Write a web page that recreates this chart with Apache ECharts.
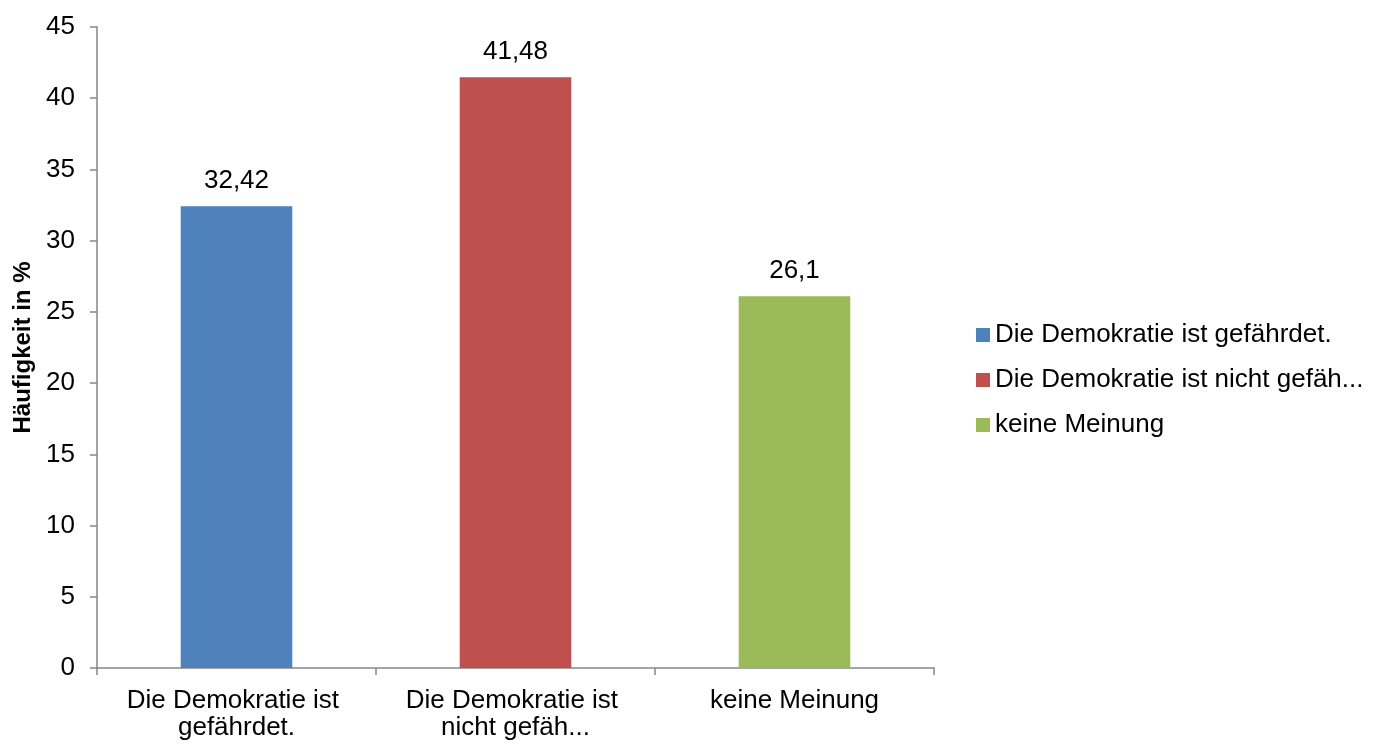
<!DOCTYPE html>
<html><head><meta charset="utf-8">
<script src="https://cdn.jsdelivr.net/npm/echarts@6/dist/echarts.min.js"></script>
<style>html,body{margin:0;padding:0;background:#fff}#c{width:1374px;height:745px}</style>
</head><body><div id="c"></div>
<script>
const categories = ['Die Demokratie ist gefährdet.', 'Die Demokratie ist nicht gefäh...', 'keine Meinung'];
const values = [32.42, 41.48, 26.1];
const colors = ['#4F81BD', '#C0504D', '#9BBB59'];
const yTicks = {min: 0, max: 45, interval: 5};
const yName = 'Häufigkeit in %';

const font = 'Liberation Sans, Arial, sans-serif';
const series = categories.map((c, i) => ({
  name: c,
  type: 'bar',
  stack: 'all',
  barWidth: '40%',
  itemStyle: {color: colors[i]},
  data: categories.map((_, j) => j === i ? values[i] : '-'),
  label: {
    show: true, position: 'top', distance: 12,
    fontFamily: font, fontSize: 26, color: '#000',
    formatter: p => String(p.value).replace('.', ',')
  }
}));

const chart = echarts.init(document.getElementById('c'), null, {renderer: 'canvas'});
chart.setOption({
  animation: false,
  backgroundColor: '#fff',
  grid: {left: 97, right: 440, top: 27, bottom: 77, containLabel: false},
  legend: {
    orient: 'vertical', left: 971, top: 317,
    itemWidth: 14, itemHeight: 14, itemGap: 19,
    icon: 'rect',
    textStyle: {fontFamily: font, fontSize: 26, color: '#000'},
    data: categories
  },
  xAxis: {
    type: 'category', data: categories,
    axisLine: {lineStyle: {color: '#868686', width: 1.5}},
    axisTick: {show: true, length: 7, lineStyle: {color: '#868686', width: 1.5}},
    axisLabel: {
      fontFamily: font, fontSize: 26, color: '#000', margin: 19,
      width: 250, overflow: 'break', lineHeight: 27, interval: 0
    }
  },
  yAxis: {
    type: 'value', min: yTicks.min, max: yTicks.max, interval: yTicks.interval,
    name: yName, nameLocation: 'middle', nameGap: 62,
    nameTextStyle: {fontFamily: font, fontSize: 24, fontWeight: 'bold', color: '#000'},
    axisLine: {show: true, lineStyle: {color: '#868686', width: 1.5}},
    axisTick: {show: true, length: 7, lineStyle: {color: '#868686', width: 1.5}},
    splitLine: {show: false},
    axisLabel: {fontFamily: font, fontSize: 26, color: '#000', margin: 22}
  },
  series: series
});
</script></body></html>
